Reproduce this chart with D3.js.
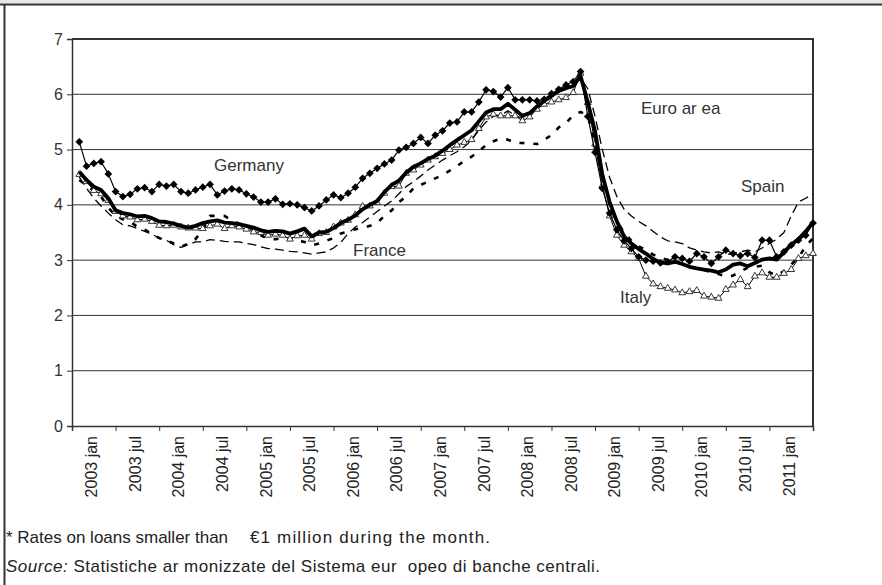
<!DOCTYPE html>
<html>
<head>
<meta charset="utf-8">
<script src="https://cdn.jsdelivr.net/npm/d3@7/dist/d3.min.js"></script>
<style>
  body { margin: 0; background: #fff; }
  svg { display: block; font-family: "Liberation Sans", Arial, sans-serif; }
</style>
</head>
<body>
<div class="main"></div>
<script>
// monthly rates, 2003 jan .. 2011 jun (one row = one year)
var germany = [
  5.14, 4.70, 4.75, 4.78, 4.56, 4.24, 4.15, 4.19, 4.29, 4.31, 4.24, 4.37,
  4.34, 4.37, 4.24, 4.21, 4.27, 4.32, 4.37, 4.18, 4.25, 4.29, 4.27, 4.20,
  4.14, 4.05, 4.05, 4.11, 4.01, 4.02, 4.00, 3.95, 3.89, 3.98, 4.09, 4.18,
  4.13, 4.21, 4.32, 4.48, 4.57, 4.66, 4.74, 4.81, 4.99, 5.04, 5.11, 5.22,
  5.11, 5.26, 5.34, 5.48, 5.50, 5.68, 5.68, 5.86, 6.08, 6.05, 5.95, 6.12,
  5.90, 5.90, 5.90, 5.88, 5.91, 6.01, 6.09, 6.17, 6.23, 6.41, 5.60, 4.95,
  4.30, 3.85, 3.55, 3.35, 3.21, 3.06, 3.00, 2.98, 2.95, 2.97, 3.06, 3.03,
  2.98, 3.12, 3.06, 2.94, 3.06, 3.18, 3.12, 3.08, 3.12, 3.05, 3.36, 3.36,
  3.06, 3.15, 3.27, 3.36, 3.45, 3.67
];
var euroArea = [
  4.60, 4.45, 4.33, 4.27, 4.12, 3.90, 3.85, 3.83, 3.79, 3.80, 3.76, 3.70,
  3.69, 3.66, 3.62, 3.59, 3.62, 3.67, 3.70, 3.72, 3.68, 3.67, 3.65, 3.62,
  3.59, 3.54, 3.51, 3.53, 3.52, 3.48, 3.52, 3.57, 3.43, 3.50, 3.51, 3.58,
  3.67, 3.73, 3.81, 3.92, 4.00, 4.07, 4.23, 4.36, 4.44, 4.58, 4.69, 4.75,
  4.83, 4.89, 4.98, 5.08, 5.17, 5.26, 5.35, 5.51, 5.67, 5.73, 5.73, 5.83,
  5.72, 5.61, 5.66, 5.78, 5.88, 5.97, 6.06, 6.11, 6.15, 6.33, 5.85, 5.33,
  4.55, 4.05, 3.70, 3.43, 3.30, 3.20, 3.12, 3.02, 2.96, 2.94, 2.97, 2.93,
  2.88, 2.85, 2.83, 2.81, 2.78, 2.83, 2.92, 2.94, 2.89, 2.95, 3.01, 3.03,
  3.01, 3.14, 3.28, 3.38, 3.52, 3.68
];
var italy = [
  4.55, 4.42, 4.26, 4.20, 4.08, 3.88, 3.80, 3.78, 3.73, 3.74, 3.70, 3.63,
  3.62, 3.63, 3.60, 3.58, 3.58, 3.57, 3.62, 3.65, 3.57, 3.62, 3.60, 3.56,
  3.51, 3.50, 3.45, 3.47, 3.45, 3.38, 3.44, 3.45, 3.38, 3.48, 3.50, 3.60,
  3.67, 3.72, 3.82, 3.97, 3.98, 4.04, 4.21, 4.33, 4.34, 4.57, 4.63, 4.72,
  4.81, 4.87, 4.93, 5.00, 5.08, 5.13, 5.18, 5.38, 5.59, 5.64, 5.61, 5.61,
  5.61, 5.52, 5.59, 5.73, 5.82, 5.86, 5.90, 5.94, 6.03, 6.38, 5.85, 5.10,
  4.35, 3.80, 3.45, 3.27, 3.15, 3.03, 2.71, 2.57, 2.52, 2.49, 2.46, 2.41,
  2.43, 2.45, 2.35, 2.33, 2.31, 2.47, 2.55, 2.65, 2.52, 2.71, 2.77, 2.69,
  2.69, 2.76, 2.83, 3.03, 3.08, 3.12
];
var spain = [
  4.50, 4.30, 4.12, 3.98, 3.85, 3.73, 3.64, 3.62, 3.57, 3.52, 3.47, 3.40,
  3.36, 3.28, 3.23, 3.28, 3.33, 3.33, 3.37, 3.36, 3.34, 3.33, 3.33, 3.30,
  3.28, 3.24, 3.21, 3.20, 3.18, 3.16, 3.15, 3.13, 3.11, 3.13, 3.15, 3.22,
  3.32, 3.48, 3.60, 3.68, 3.78, 3.88, 3.98, 4.07, 4.20, 4.33, 4.42, 4.52,
  4.63, 4.72, 4.81, 4.89, 4.96, 5.05, 5.17, 5.35, 5.50, 5.60, 5.62, 5.70,
  5.62, 5.56, 5.62, 5.75, 5.87, 5.95, 6.05, 6.10, 6.15, 6.30, 6.10, 5.60,
  5.00, 4.50, 4.15, 3.92, 3.80, 3.70, 3.62, 3.52, 3.42, 3.35, 3.33, 3.30,
  3.22, 3.18, 3.15, 3.13, 3.15, 3.10, 3.12, 3.15, 3.18, 3.15, 3.22, 3.30,
  3.38, 3.50, 3.80, 4.05, 4.12, 4.20
];
var france = [
  4.45, 4.35, 4.25, 4.15, 3.95, 3.80, 3.74, 3.70, 3.60, 3.55, 3.48, 3.40,
  3.36, 3.30, 3.24, 3.30, 3.38, 3.55, 3.80, 3.80, 3.80, 3.72, 3.66, 3.62,
  3.55, 3.45, 3.38, 3.38, 3.40, 3.40, 3.36, 3.33, 3.27, 3.30, 3.35, 3.40,
  3.48, 3.52, 3.56, 3.58, 3.62, 3.67, 3.80, 3.90, 4.05, 4.15, 4.30, 4.36,
  4.42, 4.48, 4.54, 4.62, 4.70, 4.80, 4.87, 4.97, 5.08, 5.15, 5.20, 5.18,
  5.12, 5.12, 5.11, 5.10, 5.18, 5.26, 5.40, 5.48, 5.62, 5.68, 5.62, 5.10,
  4.50, 4.00, 3.70, 3.50, 3.35, 3.25, 3.18, 3.10, 3.05, 3.00, 2.98, 2.93,
  2.88, 2.85, 2.82, 2.78, 2.75, 2.70, 2.72, 2.80, 2.86, 2.88, 2.90, 2.78,
  2.72, 2.80, 2.92, 3.05, 3.25, 3.40
];

var tickLabels = ["2003 jan", "2003 jul", "2004 jan", "2004 jul", "2005 jan", "2005 jul",
  "2006 jan", "2006 jul", "2007 jan", "2007 jul", "2008 jan", "2008 jul",
  "2009 jan", "2009 jul", "2010 jan", "2010 jul", "2011 jan"];
var yTicks = [0, 1, 2, 3, 4, 5, 6, 7];

(function() {
  var width = 882, height = 585;
  var svg = d3.select("div.main").append("svg")
    .attr("width", width)
    .attr("height", height);

  // outer frame (top + left only, like the cropped page)
  svg.append("rect").attr("x", 0).attr("y", 0).attr("width", width).attr("height", 3).attr("fill", "#e6e6e6");
  svg.append("line").attr("x1", 0).attr("x2", width).attr("y1", 4.5).attr("y2", 4.5)
    .attr("stroke", "#333").attr("stroke-width", 2);
  svg.append("line").attr("x1", 4.5).attr("x2", 4.5).attr("y1", 4).attr("y2", height)
    .attr("stroke", "#333").attr("stroke-width", 2);

  var pl = 72, pr = 813, pt = 39, pb = 426;
  var nMonths = germany.length;

  // slot 0 is empty, month i sits at slot i+1
  var x = d3.scaleLinear().domain([0, nMonths]).range([pl, pr]);
  var y = d3.scaleLinear().domain([0, 7]).range([pb, pt]);

  // gridlines
  svg.append("g")
    .selectAll("line")
    .data(yTicks.filter(function(d) { return d > 0 && d < 7; }))
    .enter().append("line")
    .attr("x1", pl).attr("x2", pr)
    .attr("y1", function(d) { return y(d); })
    .attr("y2", function(d) { return y(d); })
    .attr("stroke", "#333").attr("stroke-width", 1);

  // top + right edge of plot
  svg.append("path")
    .attr("d", "M" + pl + "," + y(7) + "H" + pr + "V" + pb)
    .attr("fill", "none").attr("stroke", "#333").attr("stroke-width", 2);

  // y axis
  var yAxis = svg.append("g")
    .attr("transform", "translate(" + pl + ",0)")
    .call(d3.axisLeft(y).tickValues(yTicks).tickSize(5).tickPadding(4).tickFormat(d3.format("d")));
  yAxis.select(".domain").attr("stroke", "#333").attr("stroke-width", 1.5);
  yAxis.selectAll(".tick line").attr("stroke", "#333");
  yAxis.selectAll("text").attr("fill", "#333").style("font-size", "16px")
    .style("font-family", "'Liberation Sans', Arial, sans-serif");

  // x axis: ticks every 6 months
  var tickPos = d3.range(0, nMonths + 1, 6);
  var xAxis = svg.append("g")
    .attr("transform", "translate(0," + pb + ")")
    .call(d3.axisBottom(x).tickValues(tickPos).tickSize(5).tickFormat(""));
  xAxis.select(".domain").attr("stroke", "#333").attr("stroke-width", 1.5);
  xAxis.selectAll(".tick line").attr("stroke", "#333");

  svg.append("g")
    .selectAll("text")
    .data(tickLabels)
    .enter().append("text")
    .attr("transform", function(d, i) { return "translate(" + x(i * 6 + 2.7) + "," + (pb + 10) + ") rotate(-90)"; })
    .attr("text-anchor", "end")
    .attr("dy", "0.35em")
    .attr("fill", "#222")
    .style("font-size", "16px")
    .text(function(d) { return d; });

  var line = d3.line()
    .x(function(d, i) { return x(i + 1); })
    .y(function(d) { return y(d); });

  function drawLine(data, w, dash) {
    svg.append("path")
      .datum(data)
      .attr("d", line)
      .attr("fill", "none")
      .attr("stroke", "#000")
      .attr("stroke-width", w)
      .attr("stroke-dasharray", dash)
      .attr("stroke-linejoin", "round");
  }

  drawLine(spain, 1.3, "9,5");
  drawLine(france, 2.6, "5,9");

  // Italy: thin line with open triangles
  drawLine(italy, 1, null);
  svg.append("g")
    .selectAll("path")
    .data(italy)
    .enter().append("path")
    .attr("d", d3.symbol().type(d3.symbolTriangle).size(20))
    .attr("transform", function(d, i) { return "translate(" + x(i + 1) + "," + y(d) + ")"; })
    .attr("fill", "#fff")
    .attr("stroke", "#222")
    .attr("stroke-width", 0.9);

  drawLine(euroArea, 3.8, null);

  // Germany: thin line with filled diamonds
  drawLine(germany, 1.2, null);
  svg.append("g")
    .selectAll("path")
    .data(germany)
    .enter().append("path")
    .attr("d", d3.symbol().type(d3.symbolSquare).size(30))
    .attr("transform", function(d, i) { return "translate(" + x(i + 1) + "," + y(d) + ") rotate(45)"; })
    .attr("fill", "#000");

  // series labels
  var labels = [
    { t: "Germany", x: 214, y: 171 },
    { t: "Euro ar ea", x: 641, y: 114 },
    { t: "Spain", x: 741, y: 192 },
    { t: "France", x: 353, y: 256 },
    { t: "Italy", x: 620, y: 303 }
  ];
  svg.append("g")
    .selectAll("text")
    .data(labels)
    .enter().append("text")
    .attr("x", function(d) { return d.x; })
    .attr("y", function(d) { return d.y; })
    .attr("fill", "#333")
    .style("font-size", "17px")
    .text(function(d) { return d.t; });

  // notes
  svg.append("text").attr("x", 6).attr("y", 543).attr("fill", "#222").style("font-size", "17px")
    .text("* Rates on loans smaller than");
  svg.append("text").attr("x", 250).attr("y", 543).attr("fill", "#222").style("font-size", "17px")
    .attr("textLength", 240).attr("lengthAdjust", "spacing")
    .text("\u20ac1 million during the month.");
  var src = svg.append("text").attr("x", 6).attr("y", 572).attr("fill", "#222").style("font-size", "17px")
    .style("white-space", "pre")
    .attr("textLength", 594).attr("lengthAdjust", "spacing");
  src.append("tspan").style("font-style", "italic").text("Source:");
  src.append("tspan").text(" Statistiche ar monizzate del Sistema eur  opeo di banche centrali.");
})();
</script>
</body>
</html>
